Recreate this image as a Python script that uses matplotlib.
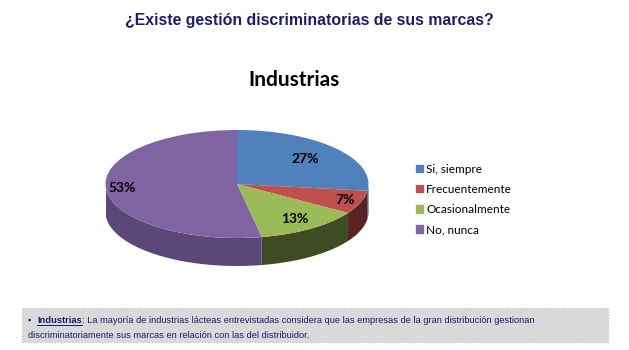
import numpy as np
import matplotlib.pyplot as plt
from matplotlib.patches import Rectangle
from matplotlib.lines import Line2D

# data
categories = ['Si, siempre', 'Frecuentemente', 'Ocasionalmente', 'No, nunca']
values = [27, 7, 13, 53]
top_colors = ['#4F81BD', '#C0504D', '#9BBB59', '#8064A2']
side_colors = ['#2f4d72', '#5a2222', '#3f4b22', '#5c4878']

title = '¿Existe gestión discriminatorias de sus marcas?'
subtitle = 'Industrias'
note_bold = 'Industrias'
note_line1 = ': La mayoría de industrias lácteas entrevistadas considera que las empresas de la gran distribución gestionan'
note_line2 = 'discriminatoriamente sus marcas en relación con las del distribuidor.'

W, H = 629, 350
fig = plt.figure(figsize=(W / 100, H / 100), dpi=100)

def fx(px):
    return px / W

def fy(py):
    return 1 - py / H

fig.text(fx(309), fy(21), title, ha='center', va='center', fontsize=11.4,
         fontweight='bold', color='#1c1c6e', family='Liberation Sans')
fig.text(fx(294), fy(80), subtitle, ha='center', va='center', fontsize=15,
         fontweight='bold', color='black', family='Lato')

# pie as a flattened disc with a visible front wall
rx, ry, depth = 131.5, 54, 28
cx, cy = 237, 184
d = depth / ry
ax = fig.add_axes([fx(cx - rx), fy(cy + ry + depth), 2 * rx / W, (2 * ry + depth) / H])
wedges, texts, autotexts = ax.pie(values, colors=top_colors, startangle=90, counterclock=False,
                                  autopct=lambda p: '%d%%' % round(p), pctdistance=0.78,
                                  radius=1, wedgeprops=dict(linewidth=0, zorder=3),
                                  textprops=dict(fontsize=10, fontweight='bold', color='black',
                                                 family='Lato'))
# nudge labels outward/inward a bit, like the original 3D view
label_scale = [0.88, 1.12, 1.0, 1.12]
for t, s in zip(autotexts, label_scale):
    x, y = t.get_position()
    t.set_position((x * s, y * s))
    t.set_zorder(5)

for w, sc in zip(wedges, side_colors):
    a1, a2 = w.theta1 % 360, w.theta2 % 360
    if a2 <= a1:
        a2 += 360
    # visible front range: angles with sin < 0 -> 180..360
    for off in (0, 360):
        l, h = max(a1, 180 + off), min(a2, 360 + off)
        if h > l:
            t = np.radians(np.linspace(l, h, 60))
            xs = np.concatenate([np.cos(t), np.cos(t[::-1])])
            ys = np.concatenate([np.sin(t), np.sin(t[::-1]) - d])
            ax.fill(xs, ys, color=sc, lw=0, zorder=1)

ax.set_aspect('auto')
ax.set_xlim(-1, 1)
ax.set_ylim(-1 - d, 1)
ax.axis('off')

handles = [Rectangle((0, 0), 1, 1, color=c) for c in top_colors]
fig.legend(handles, categories, loc='upper left', bbox_to_anchor=(fx(405), fy(153)),
           frameon=False, handlelength=0.6, handleheight=0.6,
           handletextpad=0.3, labelspacing=0.78,
           prop=dict(family='Lato', size=8.5))

# bottom note box
fig.patches.append(Rectangle((fx(22), fy(342)), fx(608) - fx(22), fy(308) - fy(342),
                             transform=fig.transFigure, facecolor='#d9d9d9',
                             edgecolor='#bfbfbf', linestyle=':', lw=0.8, zorder=0))
note_kw = dict(fontsize=6.65, color='#1c1c6e', family='Liberation Sans', va='baseline')
fig.text(fx(28), fy(323), '▪', **note_kw)
tb = fig.text(fx(37), fy(323), note_bold, fontweight='bold', **note_kw)
fig.canvas.draw()
bb = tb.get_window_extent()
fig.text(bb.x1 / W, fy(323), note_line1, **note_kw)
fig.add_artist(Line2D([bb.x0 / W, bb.x1 / W], [fy(324.5), fy(324.5)],
                      transform=fig.transFigure, color='#1c1c6e', lw=0.7))
fig.text(fx(28), fy(338), note_line2, **note_kw)

fig.savefig('out.png', dpi=100)
